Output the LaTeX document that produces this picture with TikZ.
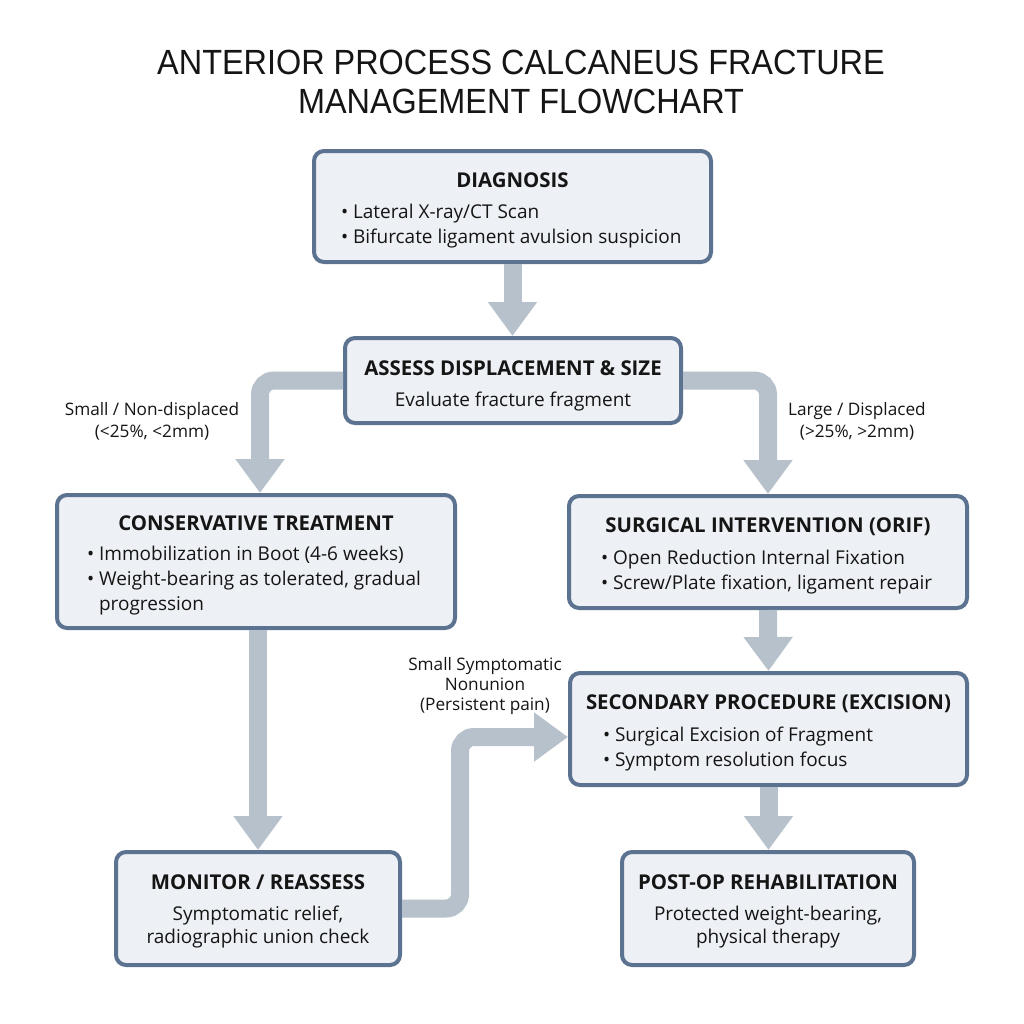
\documentclass[tikz,border=0pt]{standalone}
\usepackage{fontspec}
\setmainfont{Open Sans}
\newfontfamily\titlefont[FakeStretch=0.926]{Liberation Sans}
\usetikzlibrary{arrows.meta,calc}
\definecolor{boxborder}{HTML}{5B7390}
\definecolor{boxfill}{HTML}{EDF0F4}
\definecolor{arrowc}{HTML}{B7C1CB}
\definecolor{inkc}{HTML}{151515}
\newcommand\boxhead[1]{{\rule{0pt}{13pt}\fontsize{10.2}{12.5}\selectfont\bfseries #1}}
\newcommand\blist[2]{\makebox[#1][l]{\begin{tabular}[t]{@{}l@{}}#2\end{tabular}}}
\newcommand\lowpad{\rule[-5pt]{0pt}{5pt}}
\begin{document}
\begin{tikzpicture}[x=0.5pt,y=-0.5pt,
  box/.style={draw=boxborder, fill=boxfill, line width=2pt, rounded corners=5pt,
    align=center, text=inkc, font=\fontsize{9.5}{12.5}\selectfont, inner sep=0pt},
  flow/.style={draw=arrowc, line width=9pt, -{Triangle[width=23.5pt,length=17pt]}},
  lbl/.style={align=center, text=inkc, font=\fontsize{8.6}{11}\selectfont},
  ttl/.style={anchor=base, text=inkc, font=\titlefont\fontsize{17.5}{19.5}\selectfont}]
\useasboundingbox[fill=white] (0,0) rectangle (1024,1024);

% title
\node[ttl] (t1) at (521,74.5) {ANTERIOR PROCESS CALCANEUS FRACTURE};
\node[ttl] (t2) at (521,113) {MANAGEMENT FLOWCHART};

% boxes
\node[box, minimum width=198.5pt, minimum height=55.5pt] (diag) at (512.5,206.5)
  {\boxhead{DIAGNOSIS}\\[3pt]\blist{171.5pt}{• Lateral X-ray/CT Scan\\ • Bifurcate ligament avulsion suspicion}};
\node[box, minimum width=168pt, minimum height=42.5pt] (assess) at (513,380.5)
  {\boxhead{ASSESS DISPLACEMENT \& SIZE}\\[3pt]Evaluate fracture fragment};
\node[box, minimum width=199pt, minimum height=66.5pt] (cons) at (256,561.5)
  {\boxhead{CONSERVATIVE TREATMENT}\\[2.5pt]\blist{169pt}{• Immobilization in Boot (4-6 weeks)\\ • Weight-bearing as tolerated, gradual\\ \hphantom{• }progression}};
\node[box, minimum width=199pt, minimum height=56pt] (surg) at (768,552)
  {\boxhead{SURGICAL INTERVENTION (ORIF)}\\[3.5pt]\blist{167pt}{• Open Reduction Internal Fixation\\ • Screw/Plate fixation, ligament repair}};
\node[box, minimum width=198.5pt, minimum height=56pt] (sec) at (768.5,729)
  {\boxhead{SECONDARY PROCEDURE (EXCISION)}\\[3.5pt]\blist{165.5pt}{• Surgical Excision of Fragment\\ • Symptom resolution focus}};
\node[box, minimum width=142pt, minimum height=56.5pt, font=\fontsize{9.5}{11.5}\selectfont] (mon) at (258,908.5)
  {\boxhead{MONITOR / REASSESS}\\[4pt]Symptomatic relief,\\radiographic union check\lowpad};
\node[box, minimum width=146pt, minimum height=56.5pt, font=\fontsize{9.5}{11.5}\selectfont] (post) at (768,908.5)
  {\boxhead{POST-OP REHABILITATION}\\[4pt]Protected weight-bearing,\\physical therapy\lowpad};

% labels
\node[lbl] (lblL) at (152,421) {Small / Non-displaced\\(<25\%, <2mm)};
\node[lbl] (lblR) at (857,421) {Large / Displaced\\(>25\%, >2mm)};
\node[lbl, font=\fontsize{8.6}{10}\selectfont] (lblS) at (485,686) {Small Symptomatic\\Nonunion\\(Persistent pain)};

% connectors
\draw[flow] (diag.south) -- (diag.south |- assess.north);
\draw[flow, rounded corners=7pt] (assess.west) -| ($(cons.north)+(4,0)$);
\draw[flow, rounded corners=7pt] (assess.east) -| (surg.north);
\draw[flow] (cons.south -| mon.north) -- (mon.north);
\draw[flow] (surg.south) -- (sec.north);
\draw[flow] (sec.south) -- (sec.south |- post.north);
\coordinate (jog) at (460,737);
\draw[flow, rounded corners=7pt] (mon.east) -| (jog) -- (jog -| sec.west);
\end{tikzpicture}
\end{document}
